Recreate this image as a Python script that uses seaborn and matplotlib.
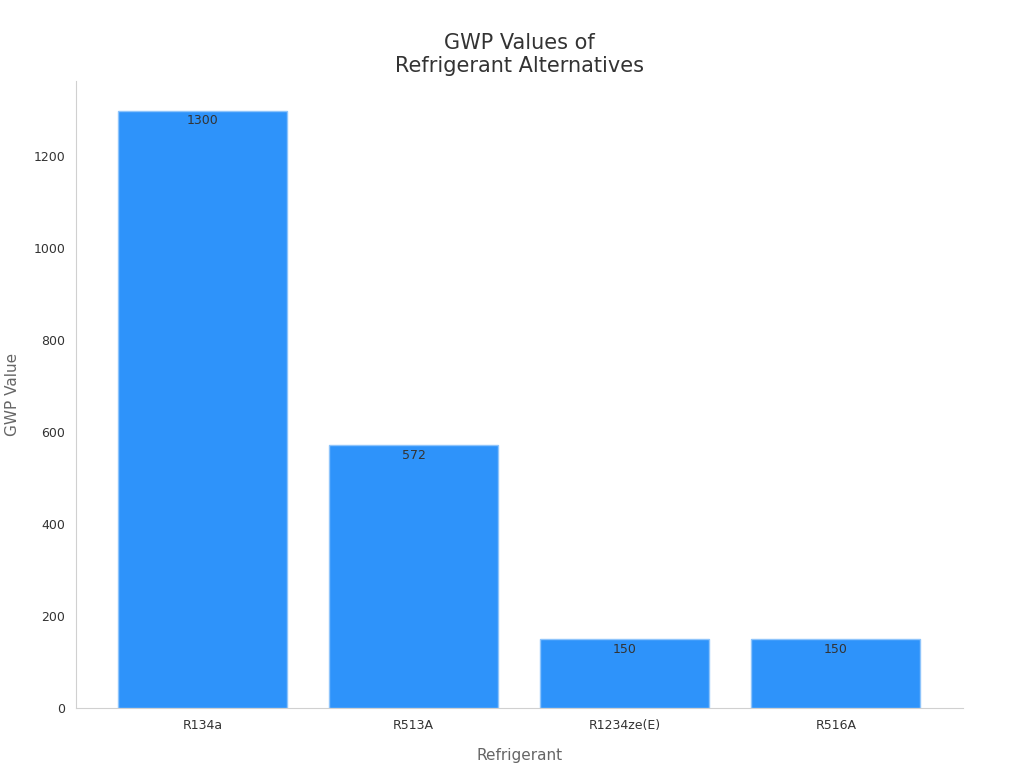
import matplotlib
matplotlib.use("Agg")
import matplotlib.pyplot as plt
import seaborn as sns
import pandas as pd

categories = ["R134a", "R513A", "R1234ze(E)", "R516A"]
values = [1300, 572, 150, 150]

sns.set_style("white")
plt.rcParams['font.family'] = ['DejaVu Sans']
df = pd.DataFrame({"Refrigerant": categories, "GWP": values})
fig, ax = plt.subplots(figsize=(10.24, 7.68), dpi=100)
sns.barplot(data=df, x="Refrigerant", y="GWP", color="#2E93FA", saturation=1, width=0.8,
            edgecolor="#8ec4fb", linewidth=1, ax=ax)
for i, v in enumerate(values):
    ax.text(i, v - 8, str(v), ha="center", va="top", fontsize=9, color="#333333")
ax.set_title("GWP Values of\nRefrigerant Alternatives", fontsize=15, color="#333333")
ax.set_xlabel("Refrigerant", fontsize=11, color="#666666", labelpad=12)
ax.set_ylabel("GWP Value", fontsize=11, color="#666666", labelpad=10)
ax.set_ylim(0, 1365)
ax.set_xlim(-0.6, 3.6)
sns.despine(ax=ax)
for s in ["left", "bottom"]:
    ax.spines[s].set_color("#d0d0d0")
ax.tick_params(axis="both", labelsize=9, colors="#333333", length=4)
ax.tick_params(axis="both", color="#999999")
plt.subplots_adjust(left=0.074, right=0.94, top=0.895, bottom=0.078)
fig.savefig("out.png")
